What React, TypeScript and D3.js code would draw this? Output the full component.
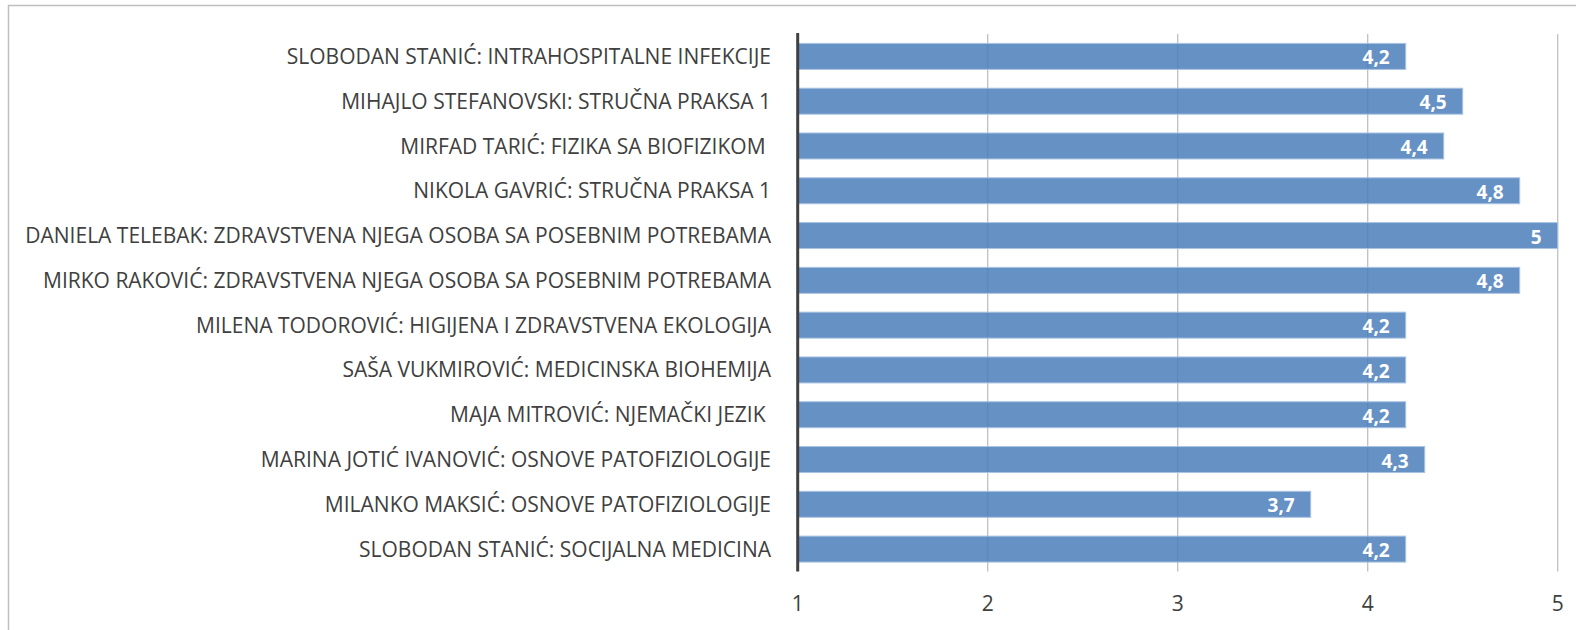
import React from "react";
import * as d3 from "d3";

const categories: string[] = [
  "SLOBODAN STANIĆ: INTRAHOSPITALNE INFEKCIJE",
  "MIHAJLO STEFANOVSKI: STRUČNA PRAKSA 1",
  "MIRFAD TARIĆ: FIZIKA SA BIOFIZIKOM ",
  "NIKOLA GAVRIĆ: STRUČNA PRAKSA 1",
  "DANIELA TELEBAK: ZDRAVSTVENA NJEGA OSOBA SA POSEBNIM POTREBAMA",
  "MIRKO RAKOVIĆ: ZDRAVSTVENA NJEGA OSOBA SA POSEBNIM POTREBAMA",
  "MILENA TODOROVIĆ: HIGIJENA I ZDRAVSTVENA EKOLOGIJA",
  "SAŠA VUKMIROVIĆ: MEDICINSKA BIOHEMIJA",
  "MAJA MITROVIĆ: NJEMAČKI JEZIK ",
  "MARINA JOTIĆ IVANOVIĆ: OSNOVE PATOFIZIOLOGIJE",
  "MILANKO MAKSIĆ: OSNOVE PATOFIZIOLOGIJE",
  "SLOBODAN STANIĆ: SOCIJALNA MEDICINA",
];
const values: number[] = [4.2, 4.5, 4.4, 4.8, 5, 4.8, 4.2, 4.2, 4.2, 4.3, 3.7, 4.2];
const ticks: number[] = [1, 2, 3, 4, 5];

const W = 1576;
const H = 630;
const FONT = "'Open Sans', 'Noto Sans', sans-serif";

export default function App() {
  const x = d3.scaleLinear().domain([1, 5]).range([797.7, 1557.7]);
  const y = d3
    .scaleBand<string>()
    .domain(categories)
    .range([34, 571.5])
    .paddingInner(0.42)
    .paddingOuter(0.21);
  const fmt = (v: number) => String(v).replace(".", ",");
  return (
    <svg
      width={W}
      height={H}
      style={{ position: "absolute", left: 0, top: 0, background: "#fff" }}
      fontFamily={FONT}
    >
      <rect x={8.5} y={5.5} width={W + 20} height={H + 20} fill="#fff" stroke="#bfbfbf" strokeWidth={1.5} />
      {ticks.slice(1).map((t) => (
        <line key={t} x1={x(t)} x2={x(t)} y1={34} y2={571.5} stroke="#bfbfbf" strokeWidth={1.3} />
      ))}
      {categories.map((c, i) => (
        <g key={i}>
          <rect
            x={x(1)}
            y={y(c)!}
            width={x(values[i]) - x(1)}
            height={y.bandwidth()}
            fill="#4a7ebb"
            fillOpacity={0.85}
            stroke="#a9c3e3"
            strokeWidth={1}
          />
          <text
            x={x(values[i]) - 16}
            y={y(c)! + y.bandwidth() / 2}
            dy="0.42em"
            textAnchor="end"
            fill="#fff"
            fontWeight="bold"
            fontSize={19}
          >
            {fmt(values[i])}
          </text>
          <text
            x={771}
            y={y(c)! + y.bandwidth() / 2}
            dy="0.36em"
            textAnchor="end"
            fill="#404040"
            fontSize={21}
            style={{ whiteSpace: "pre" }}
          >
            {c}
          </text>
        </g>
      ))}
      <line x1={x(1)} x2={x(1)} y1={33} y2={571.5} stroke="#404040" strokeWidth={3} />
      {ticks.map((t) => (
        <text key={t} x={x(t)} y={603} dy="0.36em" textAnchor="middle" fill="#404040" fontSize={21}>
          {t}
        </text>
      ))}
    </svg>
  );
}
